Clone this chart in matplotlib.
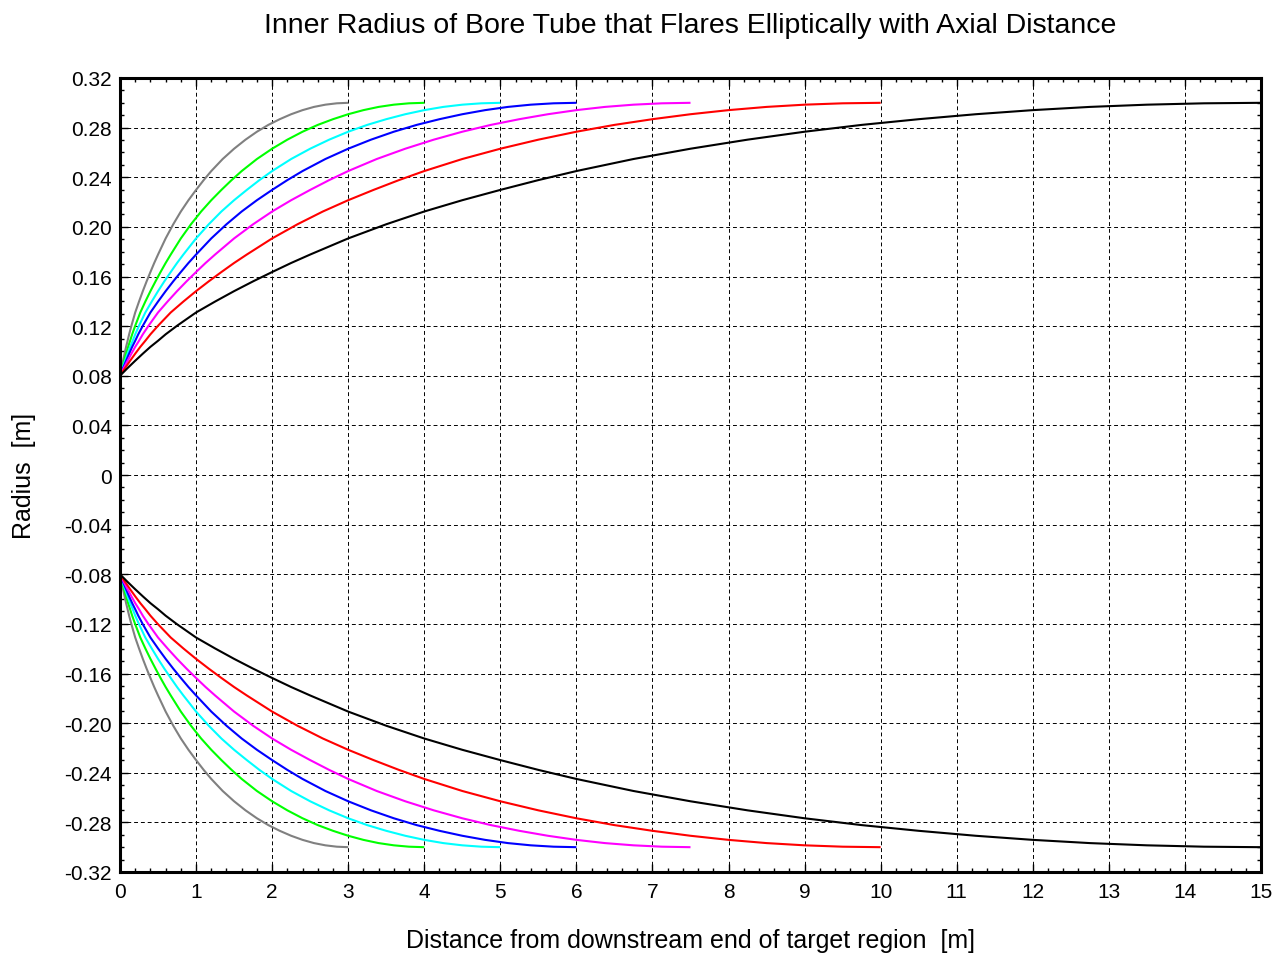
import matplotlib
matplotlib.use("Agg")
import matplotlib.pyplot as plt
import numpy as np
from matplotlib.ticker import MultipleLocator, FuncFormatter

plt.rcParams['font.family'] = ['Liberation Sans', 'DejaVu Sans']
plt.rcParams['axes.unicode_minus'] = False

# === Radius levels of the upper wall (lower wall is the mirror image) ===
r_wall = [0.0800, 0.0862, 0.0921, 0.0978, 0.1033, 0.1082, 0.1134, 0.1203, 0.1310, 0.1398,
          0.1482, 0.1561, 0.1636, 0.1709, 0.1777, 0.1907, 0.2021, 0.2124, 0.2215, 0.2298,
          0.2377, 0.2450, 0.2547, 0.2630, 0.2703, 0.2767, 0.2822, 0.2868, 0.2908, 0.2941,
          0.2967, 0.2985, 0.2996, 0.3000]

# === Axial distance at which each curve reaches those radius levels ===
z_gray = [0, 0.02, 0.04, 0.06, 0.08, 0.10, 0.12, 0.15, 0.2, 0.25, 0.3, 0.35, 0.4, 0.45, 0.5,
          0.6, 0.7, 0.8, 0.9, 1.0, 1.1, 1.2, 1.35, 1.5, 1.65, 1.8, 1.95, 2.1, 2.25, 2.4,
          2.55, 2.7, 2.85, 3.0]
z_green = [0, 0.027, 0.053, 0.08, 0.107, 0.133, 0.16, 0.2, 0.267, 0.333, 0.4, 0.467, 0.533,
           0.6, 0.667, 0.8, 0.933, 1.067, 1.2, 1.333, 1.467, 1.6, 1.8, 2.0, 2.2, 2.4, 2.6,
           2.8, 3.0, 3.2, 3.4, 3.6, 3.8, 4.0]
z_cyan = [0, 0.033, 0.067, 0.1, 0.133, 0.167, 0.2, 0.25, 0.333, 0.417, 0.5, 0.583, 0.667,
          0.75, 0.833, 1.0, 1.167, 1.333, 1.5, 1.667, 1.833, 2.0, 2.25, 2.5, 2.75, 3.0, 3.25,
          3.5, 3.75, 4.0, 4.25, 4.5, 4.75, 5.0]
z_blue = [0, 0.04, 0.08, 0.12, 0.16, 0.2, 0.24, 0.3, 0.4, 0.5, 0.6, 0.7, 0.8, 0.9, 1.0,
          1.2, 1.4, 1.6, 1.8, 2.0, 2.2, 2.4, 2.7, 3.0, 3.3, 3.6, 3.9, 4.2, 4.5, 4.8, 5.1,
          5.4, 5.7, 6.0]
z_magenta = [0, 0.05, 0.1, 0.15, 0.2, 0.25, 0.3, 0.375, 0.5, 0.625, 0.75, 0.875, 1.0, 1.125,
             1.25, 1.5, 1.75, 2.0, 2.25, 2.5, 2.75, 3.0, 3.375, 3.75, 4.125, 4.5, 4.875,
             5.25, 5.625, 6.0, 6.375, 6.75, 7.125, 7.5]
z_red = [0, 0.067, 0.133, 0.2, 0.267, 0.333, 0.4, 0.5, 0.667, 0.833, 1.0, 1.167, 1.333, 1.5,
         1.667, 2.0, 2.333, 2.667, 3.0, 3.333, 3.667, 4.0, 4.5, 5.0, 5.5, 6.0, 6.5, 7.0,
         7.5, 8.0, 8.5, 9.0, 9.5, 10.0]
z_black = [0, 0.1, 0.2, 0.3, 0.4, 0.5, 0.6, 0.75, 1.0, 1.25, 1.5, 1.75, 2.0, 2.25, 2.5, 3.0,
           3.5, 4.0, 4.5, 5.0, 5.5, 6.0, 6.75, 7.5, 8.25, 9.0, 9.75, 10.5, 11.25, 12.0,
           12.75, 13.5, 14.25, 15.0]

curves = [
    (z_gray, "#808080"),
    (z_green, "#00ff00"),
    (z_cyan, "#00ffff"),
    (z_blue, "#0000ff"),
    (z_magenta, "#ff00ff"),
    (z_red, "#ff0000"),
    (z_black, "#000000"),
]

fig = plt.figure(figsize=(12.88, 9.54), dpi=100)
ax = fig.add_axes([120 / 1288, 1 - 873 / 954, (1261 - 120) / 1288, (873 - 79) / 954])

r = np.asarray(r_wall)
for z, c in curves:
    ax.plot(z, r, color=c, lw=1.5, solid_joinstyle="round", solid_capstyle="butt")
    ax.plot(z, -r, color=c, lw=1.5, solid_joinstyle="round", solid_capstyle="butt")

ax.set_xlim(0, 15)
ax.set_ylim(-0.32, 0.32)
ax.xaxis.set_major_locator(MultipleLocator(1))
ax.xaxis.set_minor_locator(MultipleLocator(0.2))
ax.yaxis.set_major_locator(MultipleLocator(0.04))
ax.yaxis.set_minor_locator(MultipleLocator(0.01))


def fmt_y(v, pos):
    if abs(v) < 1e-9:
        return "0"
    return f"{v:.2f}"


ax.yaxis.set_major_formatter(FuncFormatter(fmt_y))

ax.grid(True, which="major", color="k", linestyle=(0, (4, 3)), lw=0.7)
ax.tick_params(which="both", direction="in", top=True, right=True, labelsize=15)
ax.tick_params(axis="x", which="major", pad=7)
ax.tick_params(axis="y", which="major", pad=6)
ax.tick_params(which="major", length=6, width=1)
ax.tick_params(which="minor", length=3, width=1)
for s in ax.spines.values():
    s.set_linewidth(2.2)

ax.set_title("Inner Radius of Bore Tube that Flares Elliptically with Axial Distance",
             fontsize=20.5, pad=33)
ax.set_xlabel("Distance from downstream end of target region  [m]", fontsize=18, labelpad=20)
ax.set_ylabel("Radius  [m]", fontsize=18, labelpad=20)

fig.savefig("out.png", dpi=100)
